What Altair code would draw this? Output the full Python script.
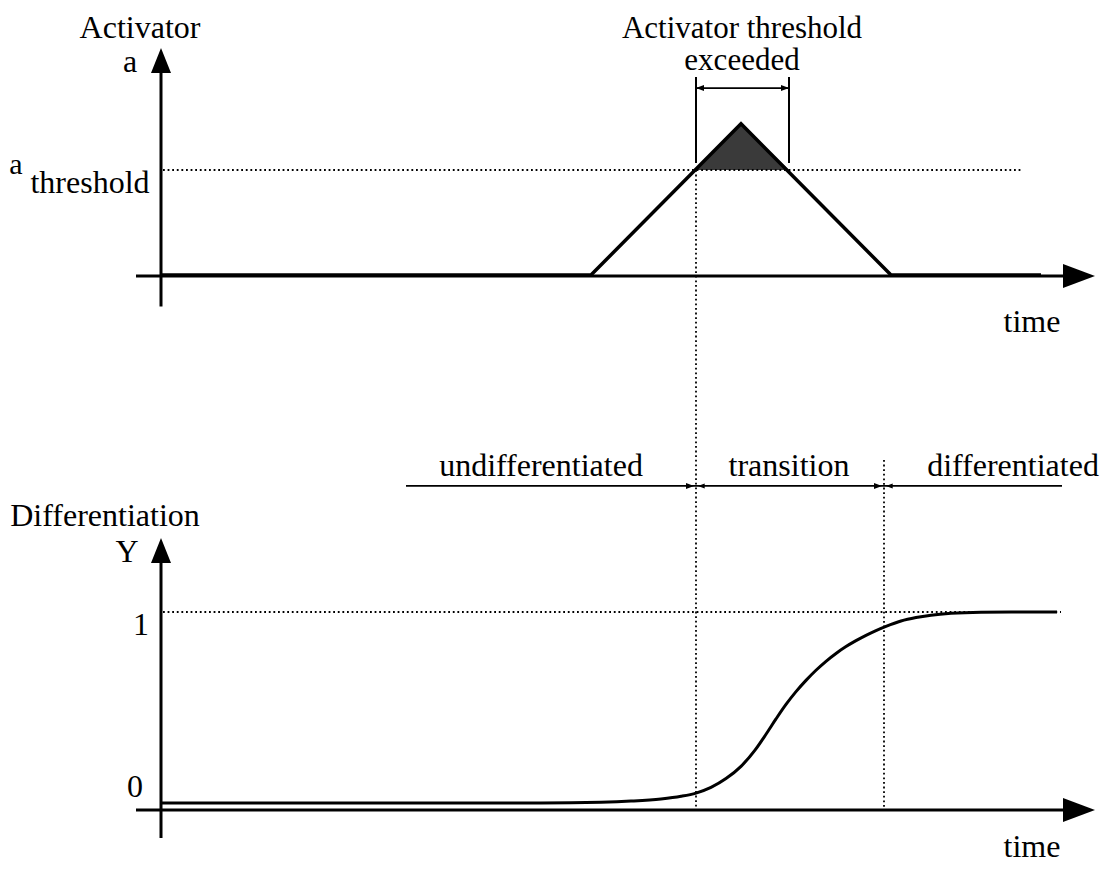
import altair as alt
import pandas as pd

# ---------------- data (time in arbitrary units, a in units of a_threshold) ----
a_threshold = 1.0
t_ramp = [0, 43, 58, 73, 88]
a_ramp = [0, 0, 1.44, 0, 0]
t_shade = [53.5, 58, 62.8]
a_shade = [1.0, 1.44, 1.0]
t_cross_up = 53.5
t_cross_down = 62.8
t_diff = 72.3

t_curve = [0, 38, 44, 47, 50, 52, 53.5, 55, 56.5, 58, 59.4, 60.5, 61.5, 62.5, 63.5, 64.5,
           65.5, 66.5, 67.5, 68.5, 69.5, 70.5, 71.5, 72.5, 74, 75.5, 77, 79, 82, 85, 89.6]
Y_curve = [0, 0, 0.004, 0.01, 0.021, 0.035, 0.052, 0.082, 0.128, 0.192, 0.277, 0.36, 0.44,
           0.516, 0.583, 0.642, 0.695, 0.742, 0.783, 0.819, 0.85, 0.878, 0.903, 0.925, 0.953,
           0.971, 0.983, 0.993, 0.999, 1.0, 1.0]

top_labels = ["Activator", "a", "a", "threshold", "time"]
top_label_t = [-2.1, -3.1, -14.5, -7.1, 87.1]
top_label_a = [2.257, 1.933, 0.962, 0.781, -0.543]
title_labels = ["Activator threshold", "exceeded"]
title_t = [58.1, 58.1]
title_a = [2.257, 1.952]

bot_labels = ["Differentiation", "Y", "1", "0", "undifferentiated", "transition", "differentiated", "time"]
bot_label_t = [-5.6, -3.4, -2.0, -2.6, 38.0, 62.8, 85.2, 87.1]
bot_label_Y = [1.45, 1.262, 0.880, 0.031, 1.712, 1.712, 1.712, -0.283]

# ---------------- scales ----------------
W, H = 1093, 856
TOP_PX = [267, 162]   # pixel rows of a = 0 and a = a_threshold
BOT_PX = [795, 604]   # pixel rows of Y = 0 and Y = 1


def a_from_Y(Yv):
    py = BOT_PX[0] + (BOT_PX[1] - BOT_PX[0]) * Yv
    return (TOP_PX[0] - py) / (TOP_PX[0] - TOP_PX[1])


xs = alt.Scale(domain=[0, 100], range=[153, 1153], nice=False, zero=False)


def ytop():
    return alt.Scale(domain=[0, 1], range=TOP_PX, nice=False, zero=False)


def ybot():
    return alt.Scale(domain=[0, 1], range=BOT_PX, nice=False, zero=False)


FONT = "Liberation Serif"
FS = 32
UP = "M0,0L1,2.5L-1,2.5Z"
RIGHT = "M0,0L-2.667,-1L-2.667,1Z"
LEFT = "M0,0L2.667,-1L2.667,1Z"


def segs(rows, scale, width=3.0, dash=None):
    df = pd.DataFrame(rows, columns=["t", "t2", "y", "y2"])
    kw = dict(color="black", strokeWidth=width)
    if dash is not None:
        kw["strokeDash"] = dash
    return alt.Chart(df).mark_rule(**kw).encode(
        x=alt.X("t:Q", scale=xs, axis=None),
        x2="t2:Q",
        y=alt.Y("y:Q", scale=scale, axis=None),
        y2="y2:Q",
    )


def heads(rows, scale, shape, size):
    df = pd.DataFrame(rows, columns=["t", "y"])
    return alt.Chart(df).mark_point(
        shape=shape, size=size, filled=True, color="black", opacity=1, strokeWidth=0
    ).encode(
        x=alt.X("t:Q", scale=xs, axis=None),
        y=alt.Y("y:Q", scale=scale, axis=None),
    )


def texts(labels, ts, ys, scale, size=FS):
    df = pd.DataFrame({"label": labels, "t": ts, "y": ys})
    return alt.Chart(df).mark_text(
        font=FONT, fontSize=size, align="center", baseline="alphabetic", color="black"
    ).encode(
        x=alt.X("t:Q", scale=xs, axis=None),
        y=alt.Y("y:Q", scale=scale, axis=None),
        text="label:N",
    )


DOT = [1.8, 2.8]
layers = []

# ---------------- top panel ----------------
layers.append(segs([[0, 0, -0.30, 2.0]], ytop(), 3))            # vertical axis
layers.append(segs([[-2.5, 91, -0.01, -0.01]], ytop(), 3))      # horizontal axis
layers.append(heads([[0, 2.162]], ytop(), UP, 400))
layers.append(heads([[93.4, -0.01]], ytop(), RIGHT, 576))

shade_df = pd.DataFrame({"t": t_shade, "a": a_shade, "a0": [a_threshold] * 3})
layers.append(
    alt.Chart(shade_df).mark_area(color="#3a3a3a", opacity=1).encode(
        x=alt.X("t:Q", scale=xs, axis=None),
        y=alt.Y("a:Q", scale=ytop(), axis=None),
        y2="a0:Q",
    )
)
ramp_df = pd.DataFrame({"t": t_ramp, "a": a_ramp})
layers.append(
    alt.Chart(ramp_df).mark_line(color="black", strokeWidth=3.5).encode(
        x=alt.X("t:Q", scale=xs, axis=None),
        y=alt.Y("a:Q", scale=ytop(), axis=None),
    )
)
layers.append(segs([[0.2, 86, a_threshold, a_threshold]], ytop(), 1.8, DOT))
layers.append(segs([[t_cross_up, t_cross_up, a_threshold, a_from_Y(-0.02)]], ytop(), 1.8, DOT))
# bracket
layers.append(segs([[t_cross_up, t_cross_up, 1.067, 1.886],
                    [t_cross_down, t_cross_down, 1.067, 1.886]], ytop(), 2))
layers.append(segs([[t_cross_up, t_cross_down, 1.78, 1.78]], ytop(), 1.8))
layers.append(heads([[t_cross_down, 1.78]], ytop(), RIGHT, 36))
layers.append(heads([[t_cross_up, 1.78]], ytop(), LEFT, 36))
layers.append(texts(top_labels[:2], top_label_t[:2], top_label_a[:2], ytop()))
layers.append(texts(top_labels[2:3], top_label_t[2:3], top_label_a[2:3], ytop(), 30))
layers.append(texts(top_labels[3:], top_label_t[3:], top_label_a[3:], ytop()))
layers.append(texts(title_labels, title_t, title_a, ytop(), 31))

# ---------------- bottom panel ----------------
layers.append(segs([[0, 0, -0.183, 1.3]], ybot(), 3))
layers.append(segs([[-2.5, 91, -0.037, -0.037]], ybot(), 3))
layers.append(heads([[0, 1.387]], ybot(), UP, 400))
layers.append(heads([[93.4, -0.037]], ybot(), RIGHT, 576))
layers.append(segs([[0.2, 90, 1, 1]], ybot(), 1.8, DOT))
layers.append(segs([[t_diff, t_diff, -0.02, 1.796]], ybot(), 1.8, DOT))
curve_df = pd.DataFrame({"t": t_curve, "Y": Y_curve})
layers.append(
    alt.Chart(curve_df).mark_line(color="black", strokeWidth=3, interpolate="monotone").encode(
        x=alt.X("t:Q", scale=xs, axis=None),
        y=alt.Y("Y:Q", scale=ybot(), axis=None),
    )
)
phase_y = 1.66
layers.append(segs([[24.5, t_cross_up, phase_y, phase_y],
                    [t_cross_up, t_diff, phase_y, phase_y],
                    [t_diff, 90.1, phase_y, phase_y]], ybot(), 1.8))
layers.append(heads([[t_cross_up - 0.2, phase_y], [t_diff - 0.2, phase_y]], ybot(), RIGHT, 36))
layers.append(heads([[t_cross_up + 0.2, phase_y], [t_diff + 0.2, phase_y]], ybot(), LEFT, 25))
layers.append(texts(bot_labels, bot_label_t, bot_label_Y, ybot()))

chart = alt.layer(*layers).resolve_scale(y="independent").properties(
    width=W, height=H, padding=0, autosize=alt.AutoSizeParams(type="none")
).configure_view(stroke=None)

chart.save("out.html", embed_options={"renderer": "svg", "actions": False})
